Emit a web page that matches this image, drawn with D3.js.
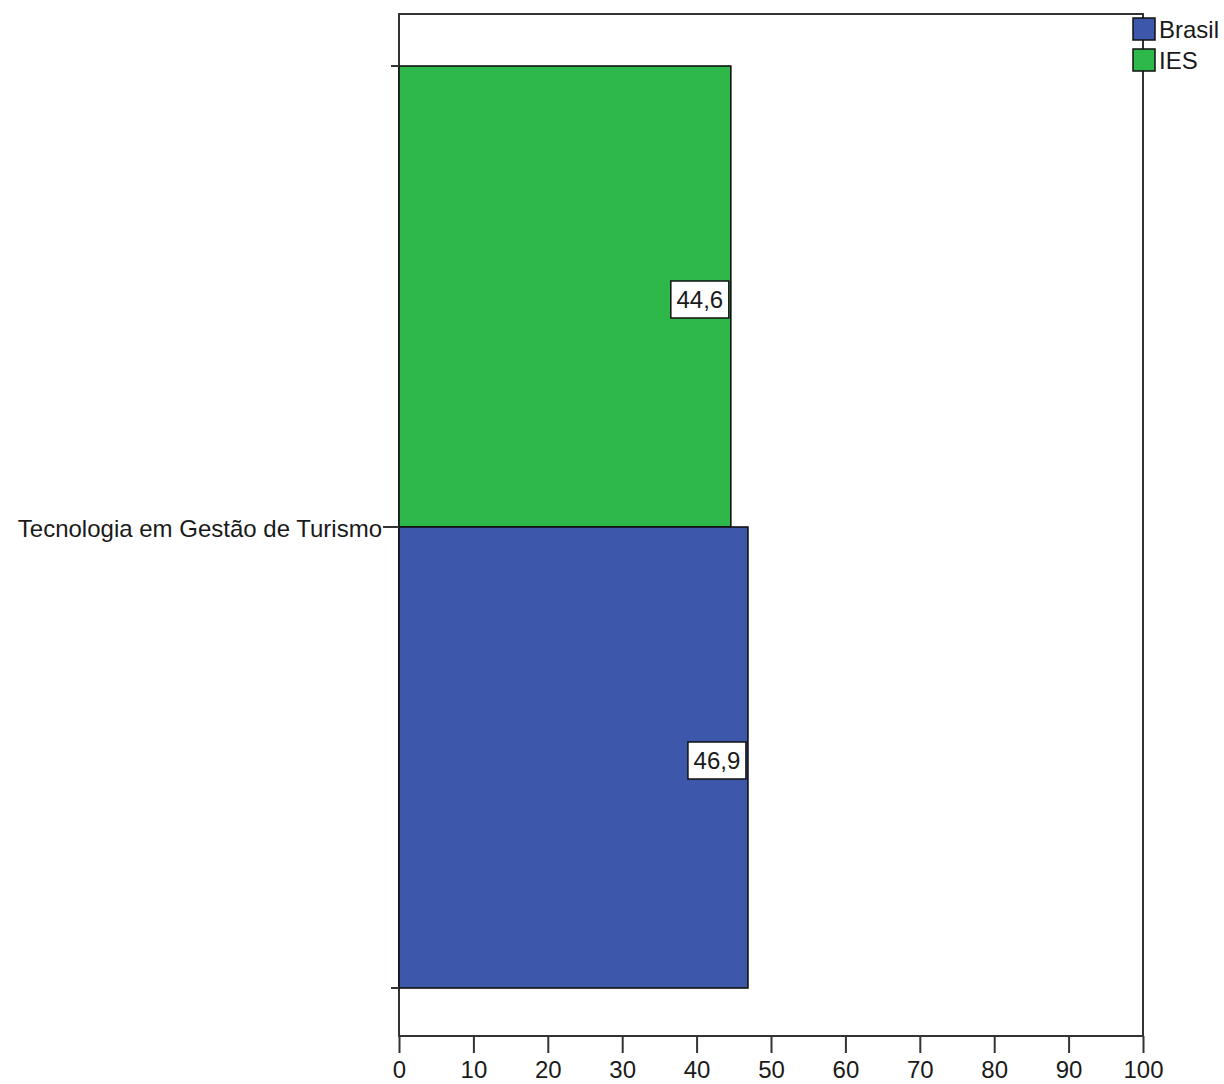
<!DOCTYPE html>
<html><head><meta charset="utf-8">
<script src="https://cdn.jsdelivr.net/npm/d3@7"></script>
<style>body{margin:0;background:#fff}svg{display:block;font-family:"Liberation Sans",Arial,sans-serif}</style>
</head><body>
<script>
const categories = ["Tecnologia em Gestão de Turismo"];
const seriesNames = ["IES", "Brasil"];
const legendOrder = ["Brasil", "IES"];
const valuesIES = [44.6];
const valuesBrasil = [46.9];
const xTicks = [0,10,20,30,40,50,60,70,80,90,100];
const colors = {"Brasil":"#3d57aa","IES":"#2fb84a"};

const W=1224,H=1084;
const L=399,R=1143,T=14,B=1036;
const FS=24;
const svg=d3.select("body").append("svg").attr("width",W).attr("height",H);
const x=d3.scaleLinear().domain([0,100]).range([L,R]);
const yCat=d3.scaleBand().domain(categories).range([T+4,B]).paddingOuter(0.05206).paddingInner(0);
const ySer=d3.scaleBand().domain(seriesNames).range([0,yCat.bandwidth()]);
const data=[];
categories.forEach((c,i)=>{data.push({c,s:"IES",v:valuesIES[i]});data.push({c,s:"Brasil",v:valuesBrasil[i]});});

// frame
svg.append("rect").attr("x",L).attr("y",T).attr("width",R-L).attr("height",B-T)
  .attr("fill","none").attr("stroke","#333").attr("stroke-width",2);

// bars
const g=svg.append("g");
g.selectAll("rect.bar").data(data).join("rect").attr("class","bar")
  .attr("x",x(0)).attr("y",d=>yCat(d.c)+ySer(d.s))
  .attr("width",d=>x(d.v)-x(0)).attr("height",ySer.bandwidth())
  .attr("fill",d=>colors[d.s]).attr("stroke","#111").attr("stroke-width",1.6);

// value labels
const fmt=v=>d3.format(".1f")(v).replace(".",",");
data.forEach(d=>{
  const cy=yCat(d.c)+ySer(d.s)+ySer.bandwidth()/2+3;
  const xr=x(d.v)-2;
  const bw=58,bh=37;
  svg.append("rect").attr("x",xr-bw).attr("y",cy-bh/2).attr("width",bw).attr("height",bh)
    .attr("fill","#fff").attr("stroke","#111").attr("stroke-width",1.5);
  svg.append("text").attr("x",xr-bw/2).attr("y",cy+8.5).attr("text-anchor","middle")
    .attr("font-size",FS).attr("fill","#1a1a1a").text(fmt(d.v));
});

// y ticks
categories.forEach(c=>{
  const y0=yCat(c),y1=yCat(c)+yCat.bandwidth(),ym=y0+yCat.bandwidth()/2;
  [y0,y1].forEach(yy=>svg.append("line").attr("x1",L-8).attr("x2",L).attr("y1",yy).attr("y2",yy).attr("stroke","#333").attr("stroke-width",2));
  svg.append("line").attr("x1",L-16).attr("x2",L).attr("y1",ym).attr("y2",ym).attr("stroke","#333").attr("stroke-width",2);
  svg.append("text").attr("x",L-17).attr("y",ym+10).attr("text-anchor","end").attr("font-size",FS).attr("fill","#1a1a1a").text(c);
});

// x axis
const xa=svg.append("g").attr("transform",`translate(0,${B})`)
  .call(d3.axisBottom(x).tickValues(xTicks).tickSize(17).tickPadding(8).tickFormat(d3.format("d")));
xa.select(".domain").remove();
xa.selectAll(".tick line").attr("stroke","#333").attr("stroke-width",2);
xa.selectAll(".tick text").attr("font-size",FS).attr("fill","#1a1a1a").attr("font-family","Liberation Sans, Arial, sans-serif");

// legend
legendOrder.forEach((s,i)=>{
  const ly=18+i*31;
  svg.append("rect").attr("x",1133).attr("y",ly).attr("width",22).attr("height",22)
    .attr("fill",colors[s]).attr("stroke","#111").attr("stroke-width",1.5);
  svg.append("text").attr("x",1159).attr("y",ly+20).attr("font-size",FS).attr("fill","#1a1a1a").text(s);
});
</script>
</body></html>
